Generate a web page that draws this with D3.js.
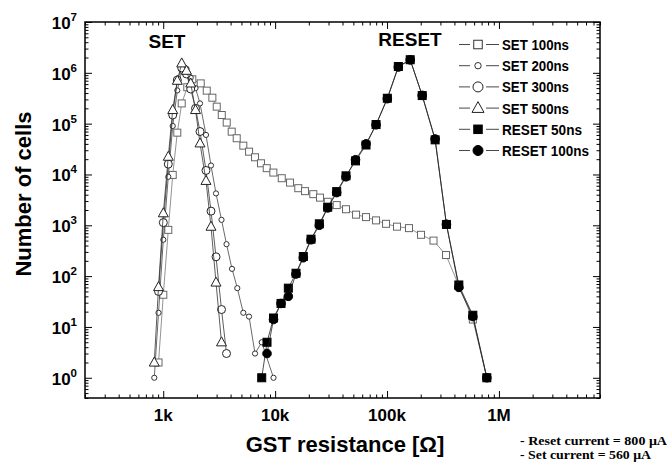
<!DOCTYPE html>
<html><head><meta charset="utf-8">
<script src="https://cdn.jsdelivr.net/npm/d3@7"></script>
<style>body{margin:0;background:#fff}svg{display:block}</style>
</head><body>
<svg id="c" width="670" height="466"></svg>
<script>
// ---- data (resistance in ohms, number of cells) ----
const set100R = [908,1002,1110,1216,1336,1463,1641,1820,2163,2449,2749,3008,3337,3693,4093,4537,5198,5848,6612,7477,8413,9640,11460,13590,16110,18500,21940,25170,29510,35500,42980,52870,64890,79770,97990,122800,157100,201200,260200,336700,438200,584500,779600];
const set100N = [2,43,813,9800,66500,250000,520000,746000,620000,446000,324000,216000,148000,105000,69600,51600,36900,28100,21800,16600,13300,10900,8440,6920,5370,4700,4100,3500,2900,2500,2070,1620,1450,1250,1070,940,880,650,500,260,65,14,1];

const set200R = [832,908,1002,1110,1216,1336,1463,1615,1761,1944,2132,2411,2673,2963,3318,3679,4118,4592,5196,5845,6612,7590,9674];
const set200N = [1,19,520,9000,90000,450000,1100000,1200000,800000,500000,250000,60000,15000,4240,1280,425,139,58,19,16,3,5,1];

const set300R = [908,1002,1110,1216,1336,1463,1615,1761,1944,2132,2411,2673,2963,3318,3679];
const set300N = [50,1130,16000,148000,720000,1250000,950000,480000,200000,70000,12000,1900,240,22,3];

const set500R = [832,908,1002,1110,1216,1336,1463,1615,1761,1944,2132,2411,2673,2963,3318];
const set500N = [2,61,1730,22400,186000,700000,1540000,1100000,620000,186000,41000,7500,940,75,5];

const reset50R = [7590,8464,9674,11290,13120,15370,17860,20930,24830,29510,35500,42980,52270,64890,79770,100600,126200,161100,206200,269000,339500,438200,584500,779600];
const reset50N = [1,5,15,29,58,114,243,533,1070,2270,4600,9400,18500,38000,96000,316000,1330000,1810000,357000,48000,1040,67,17,1];

const reset100R = [8464,9674,11290,13120,15370,17860,20930,24830,29510,35500,42980,52270,64890,79770,100600,126200,161100,206200,269000,339500,438200,584500,779600];
const reset100N = [3,14,29,40,110,230,520,1000,2200,4400,9000,19500,40000,95000,310000,1300000,1800000,360000,50000,1050,60,16,1];

const seriesNames = ["SET 100ns","SET 200ns","SET 300ns","SET 500ns","RESET 50ns","RESET 100ns"];
const xTickValues = [1e3,1e4,1e5,1e6];
const xTickLabels = ["1k","10k","100k","1M"];
const yTickExps = [0,1,2,3,4,5,6,7];
const notes = ["- Reset current = 800 \u03bcA","- Set current = 560 \u03bcA"];

// ---- layout ----
const svg = d3.select("#c");
const L=85,R=600,T=22,B=398;
const x = d3.scaleLog().domain([200,8e6]).range([L,R]);
const y = d3.scaleLog().domain([0.4,1e7]).range([B,T]);

// minor tick values
const xMinor=[], yMinor=[];
for(let e=2;e<=6;e++) for(let m=2;m<=9;m++){const v=m*Math.pow(10,e); if(v>=200&&v<=8e6) xMinor.push(v);}
for(let e=-1;e<=6;e++) for(let m=2;m<=9;m++){const v=m*Math.pow(10,e); if(v>=0.4&&v<=1e7) yMinor.push(v);}
const yMajor = yTickExps.map(e=>Math.pow(10,e));

function axisG(axis, tr){
  const g = svg.append("g").attr("transform",tr).call(axis);
  g.select(".domain").remove();
  g.selectAll(".tick line").attr("stroke","#000").attr("stroke-width",1);
  g.selectAll(".tick text").remove();
  return g;
}
// bottom & top
axisG(d3.axisBottom(x).tickValues(xTickValues).tickSize(-7).tickFormat(""),`translate(0,${B})`);
axisG(d3.axisBottom(x).tickValues(xMinor).tickSize(-3.5).tickFormat(""),`translate(0,${B})`);
axisG(d3.axisTop(x).tickValues(xTickValues).tickSize(-7).tickFormat(""),`translate(0,${T})`);
axisG(d3.axisTop(x).tickValues(xMinor).tickSize(-3.5).tickFormat(""),`translate(0,${T})`);
// left & right
axisG(d3.axisLeft(y).tickValues(yMajor).tickSize(-7).tickFormat(""),`translate(${L},0)`);
axisG(d3.axisLeft(y).tickValues(yMinor).tickSize(-3.5).tickFormat(""),`translate(${L},0)`);
axisG(d3.axisRight(y).tickValues(yMajor).tickSize(-7).tickFormat(""),`translate(${R},0)`);
axisG(d3.axisRight(y).tickValues(yMinor).tickSize(-3.5).tickFormat(""),`translate(${R},0)`);

svg.append("rect").attr("x",L).attr("y",T).attr("width",R-L).attr("height",B-T)
  .attr("fill","none").attr("stroke","#000").attr("stroke-width",1.5);

const font = "'Liberation Sans', Arial, sans-serif";
// x tick labels
svg.append("g").selectAll("text").data(xTickValues).join("text")
  .attr("x",d=>x(d)).attr("y",421).attr("text-anchor","middle")
  .attr("font-family",font).attr("font-weight","bold").attr("font-size",17)
  .text((d,i)=>xTickLabels[i]);
// y tick labels
const yl = svg.append("g").selectAll("text").data(yTickExps).join("text")
  .attr("x",77).attr("y",e=>y(Math.pow(10,e))+7).attr("text-anchor","end")
  .attr("font-family",font).attr("font-weight","bold").attr("font-size",17);
yl.append("tspan").text("10");
yl.append("tspan").attr("dy",-8).attr("font-size",11.5).text(e=>e);

// axis titles
svg.append("text").attr("x",345).attr("y",452).attr("text-anchor","middle")
  .attr("font-family",font).attr("font-weight","bold").attr("font-size",22)
  .text("GST resistance [\u03a9]");
svg.append("text").attr("transform","translate(31,194) rotate(-90)").attr("text-anchor","middle")
  .attr("font-family",font).attr("font-weight","bold").attr("font-size",22)
  .text("Number of cells");
svg.append("g").selectAll("text").data(notes).join("text")
  .attr("x",520).attr("y",(d,i)=>445+i*14)
  .attr("font-family","'Liberation Serif','Times New Roman',serif").attr("font-weight","bold").attr("font-size",13)
  .attr("textLength",(d,i)=>i===0?147:131).attr("lengthAdjust","spacingAndGlyphs")
  .text(d=>d);

// region labels
svg.append("text").attr("x",167).attr("y",48).attr("text-anchor","middle")
  .attr("font-family",font).attr("font-weight","bold").attr("font-size",19).text("SET");
svg.append("text").attr("x",410).attr("y",46).attr("text-anchor","middle")
  .attr("font-family",font).attr("font-weight","bold").attr("font-size",19).text("RESET");

// ---- series ----
const styles = [
  {R:set100R,N:set100N,shape:"square",fill:"#fff",stroke:"#666",line:"#777",size:7},
  {R:set200R,N:set200N,shape:"circle",fill:"#fff",stroke:"#333",line:"#444",size:2.6},
  {R:set300R,N:set300N,shape:"circle",fill:"#fff",stroke:"#222",line:"#333",size:4},
  {R:set500R,N:set500N,shape:"triangle",fill:"#fff",stroke:"#222",line:"#333",size:10},
  {R:reset50R,N:reset50N,shape:"square",fill:"#000",stroke:"#000",line:"#222",size:8},
  {R:reset100R,N:reset100N,shape:"circle",fill:"#000",stroke:"#000",line:"#222",size:4.3}
];
function drawMarker(g, s, cx, cy){
  if(s.shape==="square"){
    g.append("rect").attr("x",cx-s.size/2).attr("y",cy-s.size/2).attr("width",s.size).attr("height",s.size)
      .attr("fill",s.fill).attr("stroke",s.stroke).attr("stroke-width",1);
  } else if(s.shape==="circle"){
    g.append("circle").attr("cx",cx).attr("cy",cy).attr("r",s.size)
      .attr("fill",s.fill).attr("stroke",s.stroke).attr("stroke-width",1);
  } else {
    const h=s.size*0.9, w=s.size;
    g.append("path").attr("d",`M${cx},${cy-h*0.6}L${cx+w/2},${cy+h*0.4}L${cx-w/2},${cy+h*0.4}Z`)
      .attr("fill",s.fill).attr("stroke",s.stroke).attr("stroke-width",1);
  }
}
const line = d3.line().x(d=>x(d[0])).y(d=>y(d[1]));
styles.forEach((s,i)=>{
  const pts = s.R.map((r,k)=>[r,s.N[k]]);
  const g = svg.append("g");
  g.append("path").attr("d",line(pts)).attr("fill","none").attr("stroke",s.line).attr("stroke-width",0.8);
  pts.forEach(p=>drawMarker(g,s,x(p[0]),y(p[1])));
});

// ---- legend ----
const lg = svg.append("g");
seriesNames.forEach((name,i)=>{
  const cy = 44.5 + i*21.2;
  const s = styles[i];
  lg.append("line").attr("x1",459).attr("x2",499).attr("y1",cy).attr("y2",cy).attr("stroke","#333").attr("stroke-width",0.9);
  const ls = Object.assign({},s);
  if(s.shape==="circle" && i===1) ls.size=3.2;
  if(s.shape==="circle" && i===2) ls.size=5;
  if(s.shape==="circle" && i===5) ls.size=5;
  if(s.shape==="square") ls.size=8.5;
  if(s.shape==="triangle") ls.size=12;
  ls.stroke = s.shape==="square"&&i===0 ? "#333" : s.stroke;
  lg.append("rect").attr("x",470).attr("y",cy-6).attr("width",16).attr("height",12).attr("fill","#fff");
  drawMarker(lg, ls, 478, cy);
  lg.append("text").attr("x",502).attr("y",cy+5.5)
    .attr("font-family",font).attr("font-weight","bold").attr("font-size",14)
    .attr("textLength", i>=4 ? (i===5?87:80) : 67).attr("lengthAdjust","spacingAndGlyphs")
    .text(name);
});
</script>
</body></html>
